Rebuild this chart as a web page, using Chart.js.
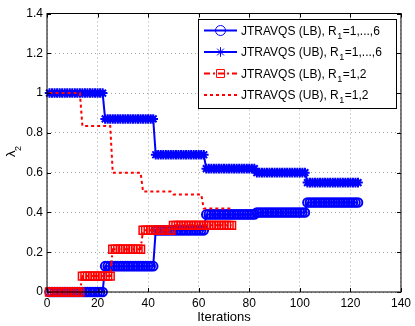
<!DOCTYPE html>
<html>
<head>
<meta charset="utf-8">
<script src="https://cdn.jsdelivr.net/npm/chart.js@4.4.0/dist/chart.umd.min.js"></script>
<style>
  html, body { margin: 0; padding: 0; background: #fff; }
  canvas { display: block; }
</style>
</head>
<body>
<canvas id="chart" width="415" height="326"></canvas>
<script>
// lambda_2 bounds per iteration (iteration = index + 1)
const lbAll = [
  0, 0, 0, 0, 0, 0, 0, 0, 0, 0, 0, 0, 0, 0, 0, 0, 0, 0, 0, 0, 0, 0,
  0.13, 0.13, 0.13, 0.13, 0.13, 0.13, 0.13, 0.13, 0.13, 0.13,
  0.13, 0.13, 0.13, 0.13, 0.13, 0.13, 0.13, 0.13, 0.13, 0.13,
  0.31, 0.31, 0.31, 0.31, 0.31, 0.31, 0.31, 0.31, 0.31, 0.31,
  0.31, 0.31, 0.31, 0.31, 0.31, 0.31, 0.31, 0.31, 0.31, 0.31,
  0.39, 0.39, 0.39, 0.39, 0.39, 0.39, 0.39, 0.39, 0.39, 0.39,
  0.39, 0.39, 0.39, 0.39, 0.39, 0.39, 0.39, 0.39, 0.39, 0.39,
  0.40, 0.40, 0.40, 0.40, 0.40, 0.40, 0.40, 0.40, 0.40, 0.40,
  0.40, 0.40, 0.40, 0.40, 0.40, 0.40, 0.40, 0.40, 0.40, 0.40,
  0.45, 0.45, 0.45, 0.45, 0.45, 0.45, 0.45, 0.45, 0.45, 0.45,
  0.45, 0.45, 0.45, 0.45, 0.45, 0.45, 0.45, 0.45, 0.45, 0.45, 0.45
];
const ubAll = [
  1, 1, 1, 1, 1, 1, 1, 1, 1, 1, 1, 1, 1, 1, 1, 1, 1, 1, 1, 1, 1, 1,
  0.87, 0.87, 0.87, 0.87, 0.87, 0.87, 0.87, 0.87, 0.87, 0.87,
  0.87, 0.87, 0.87, 0.87, 0.87, 0.87, 0.87, 0.87, 0.87, 0.87,
  0.69, 0.69, 0.69, 0.69, 0.69, 0.69, 0.69, 0.69, 0.69, 0.69,
  0.69, 0.69, 0.69, 0.69, 0.69, 0.69, 0.69, 0.69, 0.69, 0.69,
  0.62, 0.62, 0.62, 0.62, 0.62, 0.62, 0.62, 0.62, 0.62, 0.62,
  0.62, 0.62, 0.62, 0.62, 0.62, 0.62, 0.62, 0.62, 0.62, 0.62,
  0.60, 0.60, 0.60, 0.60, 0.60, 0.60, 0.60, 0.60, 0.60, 0.60,
  0.60, 0.60, 0.60, 0.60, 0.60, 0.60, 0.60, 0.60, 0.60, 0.60,
  0.55, 0.55, 0.55, 0.55, 0.55, 0.55, 0.55, 0.55, 0.55, 0.55,
  0.55, 0.55, 0.55, 0.55, 0.55, 0.55, 0.55, 0.55, 0.55, 0.55, 0.55
];
const lbTwo = [
  0, 0, 0, 0, 0, 0, 0, 0, 0, 0, 0, 0, 0,
  0.08, 0.08, 0.08, 0.08, 0.08, 0.08, 0.08, 0.08, 0.08, 0.08, 0.08, 0.08,
  0.215, 0.215, 0.215, 0.215, 0.215, 0.215, 0.215, 0.215, 0.215, 0.215, 0.215, 0.215,
  0.31, 0.31, 0.31, 0.31, 0.31, 0.31, 0.31, 0.31, 0.31, 0.31, 0.31, 0.31,
  0.335, 0.335, 0.335, 0.335, 0.335, 0.335, 0.335, 0.335, 0.335, 0.335, 0.335, 0.335,
  0.335, 0.335, 0.335, 0.335, 0.335, 0.335, 0.335, 0.335, 0.335, 0.335, 0.335, 0.335
];
const ubTwo = [
  1, 1, 1, 1, 1, 1, 1, 1, 1, 1, 1, 1, 1,
  0.835, 0.835, 0.835, 0.835, 0.835, 0.835, 0.835, 0.835, 0.835, 0.835, 0.835, 0.835,
  0.6, 0.6, 0.6, 0.6, 0.6, 0.6, 0.6, 0.6, 0.6, 0.6, 0.6, 0.6,
  0.505, 0.505, 0.505, 0.505, 0.505, 0.505, 0.505, 0.505, 0.505, 0.505, 0.505, 0.505,
  0.49, 0.49, 0.49, 0.49, 0.49, 0.49, 0.49, 0.49, 0.49, 0.49, 0.49, 0.49,
  0.42, 0.42, 0.42, 0.42, 0.42, 0.42, 0.42, 0.42, 0.42, 0.42, 0.42, 0.42
];

const legendNames = [
  ["JTRAVQS (LB), R", "1", "=1,...,6"],
  ["JTRAVQS (UB), R", "1", "=1,...,6"],
  ["JTRAVQS (LB), R", "1", "=1,2"],
  ["JTRAVQS (UB), R", "1", "=1,2"],
];

const FONT = "'Liberation Sans', Arial, Helvetica, sans-serif";
Chart.defaults.font.family = FONT;

const toPoints = (arr) => arr.map((v, i) => ({ x: i + 1, y: v }));

const datasets = [
  {
    data: toPoints(lbAll),
    borderColor: "#0000ff",
    borderWidth: 2,
    pointStyle: "circle",
    pointRadius: 4.3,
    pointBorderWidth: 2,
    pointBorderColor: "#0000ff",
    pointBackgroundColor: "rgba(0,0,0,0)",
    clip: false,
    order: 4,
  },
  {
    data: toPoints(ubAll),
    borderColor: "#0000ff",
    borderWidth: 2,
    pointStyle: "star",
    pointRadius: 4.8,
    pointBorderWidth: 2,
    pointBorderColor: "#0000ff",
    pointBackgroundColor: "rgba(0,0,0,0)",
    clip: false,
    order: 3,
  },
  {
    data: toPoints(lbTwo),
    borderColor: "#ff0000",
    borderWidth: 2,
    borderDash: [6, 3, 2, 3],
    pointStyle: "rect",
    pointRadius: 5.6,
    pointBorderWidth: 1.5,
    pointBorderColor: "#ff0000",
    pointBackgroundColor: "rgba(0,0,0,0)",
    clip: false,
    order: 2,
  },
  {
    data: toPoints(ubTwo),
    borderColor: "#ff0000",
    borderWidth: 2,
    borderDash: [3, 3],
    pointRadius: 0,
    clip: false,
    order: 1,
  },
];

// MATLAB style box, inner ticks, y label and legend
const matlabFrame = {
  id: "matlabFrame",
  afterDraw(chart) {
    const { ctx, chartArea: a, scales } = chart;
    ctx.save();
    ctx.strokeStyle = "#000";
    ctx.lineWidth = 1;
    ctx.setLineDash([]);
    ctx.strokeRect(a.left, a.top, a.right - a.left, a.bottom - a.top);
    ctx.beginPath();
    scales.x.ticks.forEach((t) => {
      const px = Math.round(scales.x.getPixelForValue(t.value)) + 0.5;
      ctx.moveTo(px, a.bottom); ctx.lineTo(px, a.bottom - 4);
      ctx.moveTo(px, a.top); ctx.lineTo(px, a.top + 4);
    });
    scales.y.ticks.forEach((t) => {
      const py = Math.round(scales.y.getPixelForValue(t.value)) + 0.5;
      ctx.moveTo(a.left, py); ctx.lineTo(a.left + 4, py);
      ctx.moveTo(a.right, py); ctx.lineTo(a.right - 4, py);
    });
    ctx.stroke();

    // y label: lambda_2
    ctx.fillStyle = "#000";
    ctx.translate(15, 157);
    ctx.rotate(-Math.PI / 2);
    ctx.textBaseline = "alphabetic";
    ctx.font = "13px " + FONT;
    ctx.fillText("λ", 0, 0);
    const lw = ctx.measureText("λ").width;
    ctx.font = "9px " + FONT;
    ctx.fillText("2", lw - 0.5, 6);
    ctx.setTransform(1, 0, 0, 1, 0, 0);

    // legend
    const bx = 198.5, by = 19.5, bw = 198, bh = 89;
    ctx.fillStyle = "#fff";
    ctx.fillRect(bx, by, bw, bh);
    ctx.strokeStyle = "#000";
    ctx.lineWidth = 1;
    ctx.strokeRect(bx, by, bw, bh);
    const rows = [30.5, 52, 73.5, 95];
    datasets.forEach((ds, i) => {
      const y = rows[i];
      ctx.strokeStyle = ds.borderColor;
      ctx.lineWidth = 2;
      ctx.setLineDash(ds.borderDash || []);
      ctx.beginPath();
      ctx.moveTo(204, y);
      ctx.lineTo(237, y);
      ctx.stroke();
      ctx.setLineDash([]);
      if (ds.pointRadius > 0) {
        ctx.fillStyle = "rgba(0,0,0,0)";
        ctx.strokeStyle = ds.borderColor;
        ctx.lineWidth = 1;
        Chart.helpers.drawPoint(ctx, {
          pointStyle: ds.pointStyle,
          radius: ds.pointStyle === "circle" ? 5 : ds.pointRadius,
          borderWidth: 1,
          rotation: 0,
        }, 220.5, y);
      }
      const [a1, s, a2] = legendNames[i];
      ctx.fillStyle = "#000";
      ctx.textBaseline = "alphabetic";
      ctx.font = "12px " + FONT;
      let tx = 241;
      const base = y + 4;
      ctx.fillText(a1, tx, base);
      tx += ctx.measureText(a1).width + 0.5;
      ctx.font = "9px " + FONT;
      ctx.fillText(s, tx, base + 4);
      tx += ctx.measureText(s).width + 0.5;
      ctx.font = "12px " + FONT;
      ctx.fillText(a2, tx, base);
    });
    ctx.restore();
  },
};

const fmt = (v) => String(Math.round(v * 10) / 10);

new Chart(document.getElementById("chart"), {
  type: "line",
  data: { datasets },
  options: {
    responsive: false,
    animation: false,
    events: [],
    layout: { padding: { left: 0, right: 13, top: 13.5, bottom: 0 } },
    plugins: { legend: { display: false }, tooltip: { enabled: false } },
    scales: {
      x: {
        type: "linear",
        min: 0,
        max: 140,
        ticks: { stepSize: 20, color: "#000", font: { size: 12 }, padding: 4, maxRotation: 0, callback: fmt },
        grid: { color: "rgba(0,0,0,0.35)", drawTicks: false },
        border: { display: false, dash: [1, 3] },
        title: { display: true, text: "Iterations", color: "#000", font: { size: 13 }, padding: { top: 0, bottom: 1 } },
        afterFit(scale) { scale.height = 34; },
      },
      y: {
        min: 0,
        max: 1.4,
        ticks: { stepSize: 0.2, color: "#000", font: { size: 12 }, padding: 4, callback: fmt },
        grid: { color: "rgba(0,0,0,0.35)", drawTicks: false },
        border: { display: false, dash: [1, 3] },
        afterFit(scale) { scale.width = 47; },
      },
    },
  },
  plugins: [matlabFrame],
});
</script>
</body>
</html>
